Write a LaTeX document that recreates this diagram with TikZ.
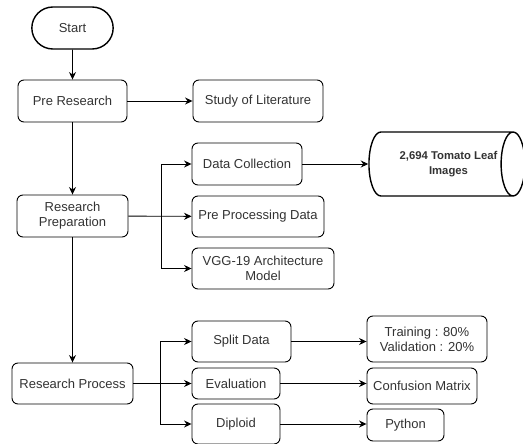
\documentclass[tikz,border=0pt]{standalone}
\usepackage{fontspec}
\setmainfont{Liberation Sans}
\usetikzlibrary{arrows.meta,shapes.misc,shapes.geometric}
\begin{document}
\begin{tikzpicture}[x=1pt,y=-1pt,
        caja/.style={draw,rounded corners=6pt,align=center,inner sep=2pt,line width=0.9pt,
            text=black!80,font=\fontsize{13}{15}\selectfont},
        flecha/.style={-{Stealth[length=7.5pt,width=7pt]},line width=0.9pt}]
        \useasboundingbox (0,0) rectangle (523,444);
        % nodos
        \node[draw,rounded rectangle,line width=1.4pt,minimum width=88pt,minimum height=42pt,
            text=black!80,font=\fontsize{13}{15}\selectfont] (inicio) at (72.5,28) {Start};
        \node[caja,minimum width=109pt,minimum height=42pt] (pre) at (72.5,101) {Pre Research};
        \node[caja,minimum width=130pt,minimum height=42pt] (estudio) at (258,101) {Study of Literature};
        \node[caja,minimum width=111pt,minimum height=42pt] (prep) at (72.5,216) {Research\\Preparation};
        \node[caja,minimum width=110pt,minimum height=42pt] (datos) at (247,164) {Data Collection};
        \node[caja,minimum width=132pt,minimum height=41pt] (prepro) at (258,216.5) {Pre Processing Data};
        \node[caja,minimum width=142pt,minimum height=41pt] (vgg) at (263,268.5) {VGG-19 Architecture\\Model};
        \node[draw,cylinder,shape aspect=0.65,line width=1.4pt,minimum width=64pt,minimum height=156pt,
            inner xsep=0pt,text=black!80,font=\bfseries\fontsize{11.3}{15}\selectfont] (imgs) at (438,164)
            {\begin{tabular}{@{\hspace{21pt}}c@{}}2,694 Tomato Leaf\\Images\end{tabular}};
        \node[caja,minimum width=121pt,minimum height=41pt] (proc) at (72.5,383.5) {Research Process};
        \node[caja,minimum width=99pt,minimum height=41pt] (split) at (241.5,341.5) {Split Data};
        \node[caja,minimum width=88pt,minimum height=31pt] (eval) at (236,383.5) {Evaluation};
        \node[caja,minimum width=88pt,minimum height=40pt] (diploid) at (236,424) {Diploid};
        \node[caja,minimum width=120pt,minimum height=46pt] (train) at (427,339) {Training : 80\%\\Validation : 20\%};
        \node[caja,minimum width=110pt,minimum height=36pt] (conf) at (422,386) {Confusion Matrix};
        \node[caja,minimum width=77pt,minimum height=32pt] (python) at (405.5,425) {Python};
        % conexiones
        \coordinate (rama1) at (161,216);
        \coordinate (rama2) at (160,383.5);
        \draw[flecha] (inicio) -- (pre);
        \draw[flecha] (pre) -- (estudio);
        \draw[flecha] (pre) -- (prep);
        \draw[flecha] (prep) -- (prepro);
        \draw[flecha] (rama1) |- (datos);
        \draw[flecha] (rama1) |- (vgg);
        \draw[flecha] (datos) -- (imgs);
        \draw[flecha] (prep) -- (proc);
        \draw[flecha] (proc) -- (eval);
        \draw[flecha] (rama2) |- (split);
        \draw[flecha] (rama2) |- (diploid.west);
        \draw[flecha] (split.east) -- (split.east -| train.west);
        \draw[flecha] (eval.east) -- (eval.east -| conf.west);
        \draw[flecha] (diploid.east) -- (diploid.east -| python.west);
\end{tikzpicture}
\end{document}
